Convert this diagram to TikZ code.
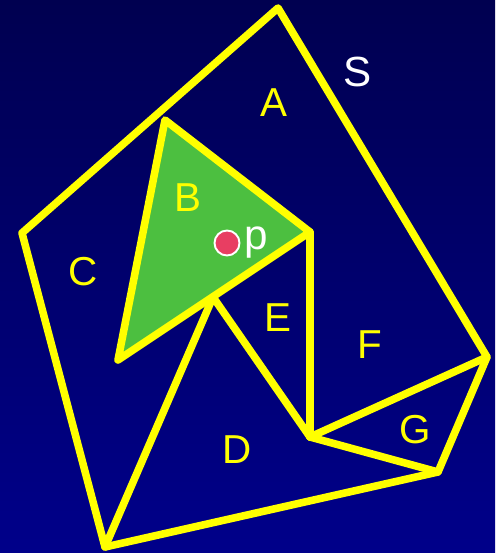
\documentclass[tikz,border=0pt]{standalone}
\usepackage{fontspec}
\setmainfont{Liberation Sans}
\usetikzlibrary{backgrounds}
\definecolor{bgTop}{HTML}{000050}
\definecolor{bgBottom}{HTML}{00008A}
\definecolor{edgeYellow}{HTML}{FFFF00}
\definecolor{fillGreen}{HTML}{4CBF40}
\definecolor{pointRed}{HTML}{E83E62}
\tikzset{
  edge/.style={
    draw=edgeYellow, line width=4.3pt, line join=round, line cap=round,
  },
  region/.style={
    font=\fontsize{23}{23}\selectfont, text=edgeYellow, inner sep=0pt,
  },
  plabel/.style={
    font=\fontsize{24}{24}\selectfont, text=white, inner sep=0pt,
  },
  query/.style={
    circle, fill=pointRed, draw=white, line width=1.1pt, minimum size=0.5cm, inner sep=0pt,
  },
}
\begin{document}
\begin{tikzpicture}[x=0.02cm, y=-0.02cm]

  % === Background ===
  \shade[top color=bgTop, bottom color=bgBottom] (0,0) rectangle (495,553);
  \useasboundingbox (0,0) rectangle (495,553);

  % === Vertices of S ===
  \coordinate (top) at (278,8);
  \coordinate (right) at (487,357);
  \coordinate (lowright) at (438,472);
  \coordinate (bottom) at (105,547);
  \coordinate (left) at (22,233);

  % === Inner vertices ===
  \coordinate (btop) at (165,120);
  \coordinate (bright) at (310,232);
  \coordinate (bleft) at (118,360);
  \coordinate (bmid) at (213,297);
  \coordinate (hub) at (310,437);

  % === Triangle B ===
  \fill[fillGreen] (btop) -- (bright) -- (bleft) -- cycle;

  % === Edges ===
  \draw[edge] (top) -- (right) -- (lowright) -- (bottom) -- (left) -- cycle;
  \draw[edge] (btop) -- (bright) -- (bleft) -- cycle;
  \draw[edge] (bright) -- (hub);
  \draw[edge] (bmid) -- (hub);
  \draw[edge] (bmid) -- (bottom);
  \draw[edge] (hub) -- (right);
  \draw[edge] (hub) -- (lowright);

  % === Labels ===
  \node[plabel] (s) at (358,72) {S};
  \node[region] (a) at (274,103) {A};
  \node[region] (b) at (188,198) {B};
  \node[region] (c) at (83,272) {C};
  \node[region] (e) at (278,318) {E};
  \node[region] (f) at (370,345) {F};
  \node[region] (g) at (415,430) {G};
  \node[region] (d) at (237,450) {D};

  % === Query point ===
  \node[query] (pt) at (227,243) {};
  \node[plabel, anchor=base west] (p) at (244,250) {p};

\end{tikzpicture}
\end{document}
